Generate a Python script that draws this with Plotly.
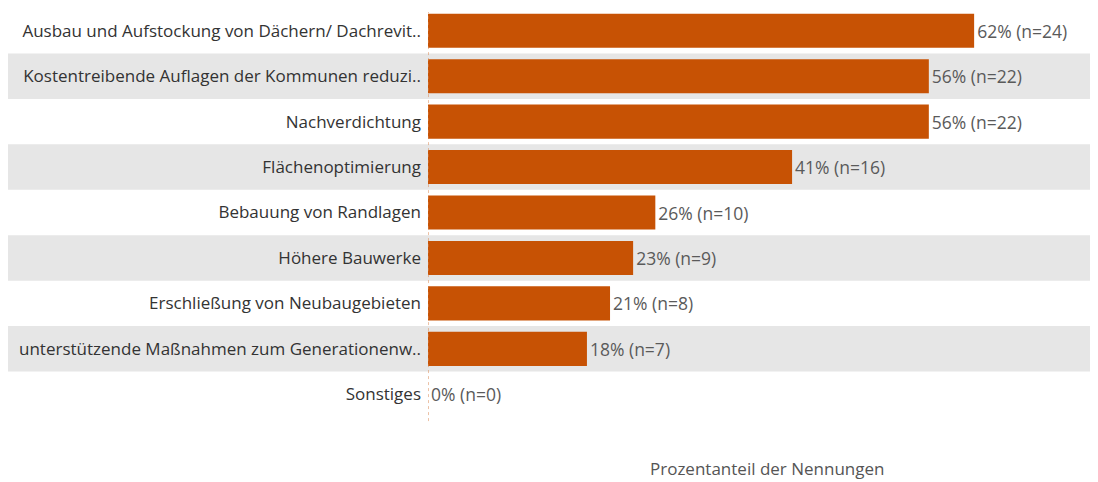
import plotly.graph_objects as go

# --- Daten ---
categories = [
    "Ausbau und Aufstockung von Dächern/ Dachrevit..",
    "Kostentreibende Auflagen der Kommunen reduzi..",
    "Nachverdichtung",
    "Flächenoptimierung",
    "Bebauung von Randlagen",
    "Höhere Bauwerke",
    "Erschließung von Neubaugebieten",
    "unterstützende Maßnahmen zum Generationenw..",
    "Sonstiges",
]
percent = [61.5, 56.4, 56.4, 41.0, 25.6, 23.1, 20.5, 17.9, 0.0]
percent_label = [62, 56, 56, 41, 26, 23, 21, 18, 0]
counts = [24, 22, 22, 16, 10, 9, 8, 7, 0]

BAR_COLOR = "#C75204"
BAND_COLOR = "#E6E6E6"
FONT = "Open Sans"

labels = [f"{p}% (n={n})" for p, n in zip(percent_label, counts)]

fig = go.Figure()
fig.add_trace(go.Bar(
    x=percent,
    y=categories,
    orientation="h",
    marker=dict(color=BAR_COLOR, line=dict(width=0)),
    width=0.75,
    text=labels,
    textposition="outside",
    textfont=dict(family=FONT, size=17.5, color="#5a5a5a"),
    cliponaxis=False,
    hoverinfo="skip",
))

# graue Zeilenbänder (jede zweite Zeile), über die ganze Breite
shapes = []
for i in range(len(categories)):
    if i % 2 == 1:
        shapes.append(dict(
            type="rect", xref="paper", yref="y",
            x0=0.0, x1=1.0, y0=i - 0.5, y1=i + 0.5,
            fillcolor=BAND_COLOR, line=dict(width=0), layer="below",
        ))
# gepunktete Nulllinie
shapes.append(dict(
    type="line", xref="x", yref="paper",
    x0=0, x1=0, y0=-0.01, y1=0.99,
    line=dict(color="#D9824A", width=1, dash="dot"),
))

fig.update_layout(
    width=1098,
    height=482,
    margin=dict(l=0, r=0, t=0, b=73),
    plot_bgcolor="white",
    paper_bgcolor="white",
    showlegend=False,
    shapes=shapes,
    font=dict(family=FONT, color="#333333"),
    xaxis=dict(
        domain=[0.3825, 1.0],
        range=[0, 76.35],
        showticklabels=False,
        showgrid=False,
        zeroline=False,
        showline=False,
        ticks="",
        automargin=False,
    ),
    yaxis=dict(
        autorange="reversed",
        showgrid=False,
        zeroline=False,
        ticks="",
        automargin=False,
        tickfont=dict(family=FONT, size=17, color="#333333"),
        ticklabelstandoff=6,
    ),
    annotations=[dict(
        text="Prozentanteil der Nennungen",
        xref="paper", yref="paper",
        x=0.691, y=-0.126,
        xanchor="center", yanchor="middle",
        showarrow=False,
        font=dict(family=FONT, size=17, color="#555555"),
    )],
)

fig.write_html("out.html")
